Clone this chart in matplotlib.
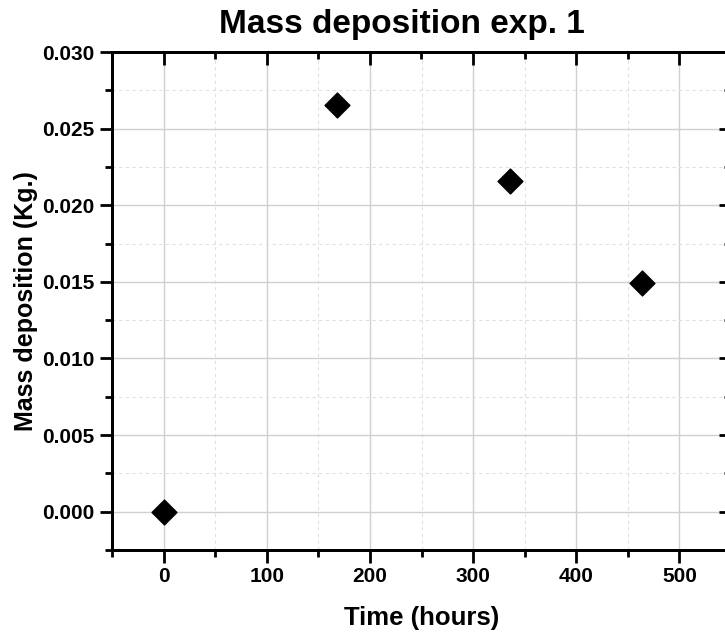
import matplotlib
matplotlib.use("Agg")
import matplotlib.pyplot as plt
from matplotlib.ticker import MultipleLocator, FormatStrFormatter

plt.rcParams['font.family'] = ['Liberation Sans', 'DejaVu Sans']

time_h = [0, 168, 336, 464]
mass_kg = [0.0, 0.02655, 0.0216, 0.0149]

fig = plt.figure(figsize=(7.25, 6.34), dpi=100)
# axes extends slightly past the right edge, as in the reference
ax = fig.add_axes([112 / 725, 84 / 634, 619 / 725, 498 / 634])

ax.scatter(time_h, mass_kg, marker="D", s=160, color="black", zorder=3)

xlim = (-50, 550)
ylim = (-0.0025, 0.030)
ax.set_xlim(*xlim)
ax.set_ylim(*ylim)
ax.xaxis.set_major_locator(MultipleLocator(100))
ax.xaxis.set_minor_locator(MultipleLocator(50))
ax.yaxis.set_major_locator(MultipleLocator(0.005))
ax.yaxis.set_minor_locator(MultipleLocator(0.0025))
ax.set_xticks([0, 100, 200, 300, 400, 500])
ax.yaxis.set_major_formatter(FormatStrFormatter("%.3f"))

ax.grid(which="major", color="#d0d0d0", lw=1.0)
ax.grid(which="minor", color="#e0e0e0", lw=0.8, ls=(0, (3, 3)))
ax.set_axisbelow(True)

for s in ax.spines.values():
    s.set_linewidth(2)

ax.tick_params(which="both", width=2, labelsize=15, direction="out",
               top=False, right=False)
ax.tick_params(which="major", length=9)
ax.tick_params(which="minor", length=5)
for lab in ax.get_xticklabels() + ax.get_yticklabels():
    lab.set_fontweight("bold")

# inward ticks on top and right, Origin style frame
tx = ax.twiny()
tx.set_xlim(*xlim)
tx.xaxis.set_major_locator(MultipleLocator(100))
tx.xaxis.set_minor_locator(MultipleLocator(50))
ty = ax.twinx()
ty.set_ylim(*ylim)
ty.yaxis.set_major_locator(MultipleLocator(0.005))
ty.yaxis.set_minor_locator(MultipleLocator(0.0025))
for t in (tx, ty):
    t.tick_params(which="both", direction="in", width=2,
                  labeltop=False, labelright=False)
    t.tick_params(which="major", length=9)
    t.tick_params(which="minor", length=5)
    for s in t.spines.values():
        s.set_linewidth(2)

ax.set_xlabel("Time (hours)", fontsize=18.5, fontweight="bold", labelpad=14)
ax.set_ylabel("Mass deposition (Kg.)", fontsize=18, fontweight="bold", labelpad=3)
ax.set_title("Mass deposition exp. 1", fontsize=24, fontweight="bold",
             x=0.468, pad=14)

fig.savefig("out.png", dpi=100)
